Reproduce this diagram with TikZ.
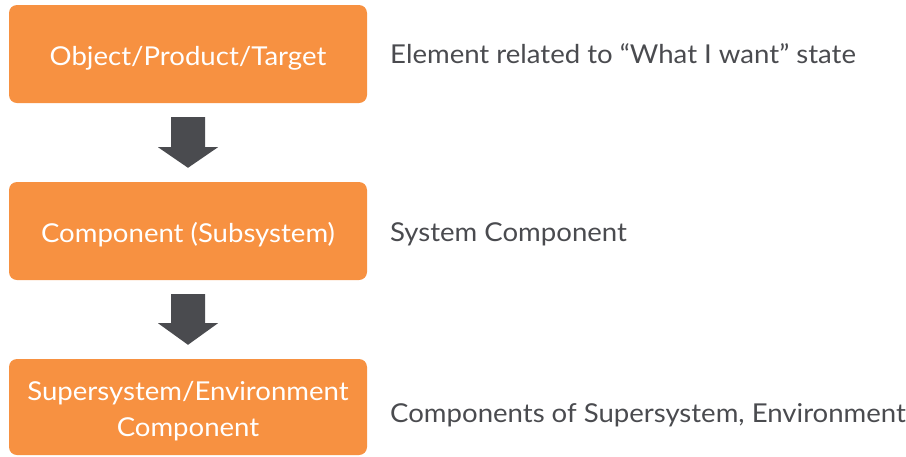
\documentclass[tikz,border=0pt]{standalone}
\usepackage{fontspec}
\setmainfont{Lato}[FakeStretch=1.06]
\usetikzlibrary{calc}
\definecolor{boxorange}{RGB}{247,145,65}
\definecolor{darkgrey}{RGB}{74,75,79}
\begin{document}
\begin{tikzpicture}[x=1pt,y=-1pt,
  box/.style={fill=boxorange, rounded corners=8pt, minimum width=358pt, inner sep=0pt,
    align=center, text=white, font=\fontsize{26}{36}\selectfont, text depth=0pt},
  desc/.style={anchor=base west, inner sep=0pt, text=darkgrey, font=\fontsize{26}{30}\selectfont},
  blockarrow/.style={fill=darkgrey}]
\useasboundingbox (0,0) rectangle (906,456);
\node[box, minimum height=98pt, text height=22pt] (b1) at (188,54) {Object/Product/Target};
\node[box, minimum height=98pt, text height=22pt] (b2) at (188,231) {Component (Subsystem)};
\node[box, minimum height=96pt, text height=58pt] (b3) at (188,407) {Supersystem/Environment\\Component};
\node[desc] (d1) at (390,63) {Element related to “What I want” state};
\node[desc] (d2) at (390,241) {System Component};
\node[desc] (d3) at (390,422) {Components of Supersystem, Environment};
\fill[blockarrow] ($(b1.south)+(-17,14)$) -- ($(b1.south)+(17,14)$) -- ($(b1.south)+(17,44)$)
  -- ($(b1.south)+(30,44)$) -- ($(b2.north)+(0,-14)$) -- ($(b1.south)+(-30,44)$)
  -- ($(b1.south)+(-17,44)$) -- cycle;
\fill[blockarrow] ($(b2.south)+(-17,14)$) -- ($(b2.south)+(17,14)$) -- ($(b2.south)+(17,43)$)
  -- ($(b2.south)+(30,43)$) -- ($(b3.north)+(0,-14)$) -- ($(b2.south)+(-30,43)$)
  -- ($(b2.south)+(-17,43)$) -- cycle;
\end{tikzpicture}
\end{document}
